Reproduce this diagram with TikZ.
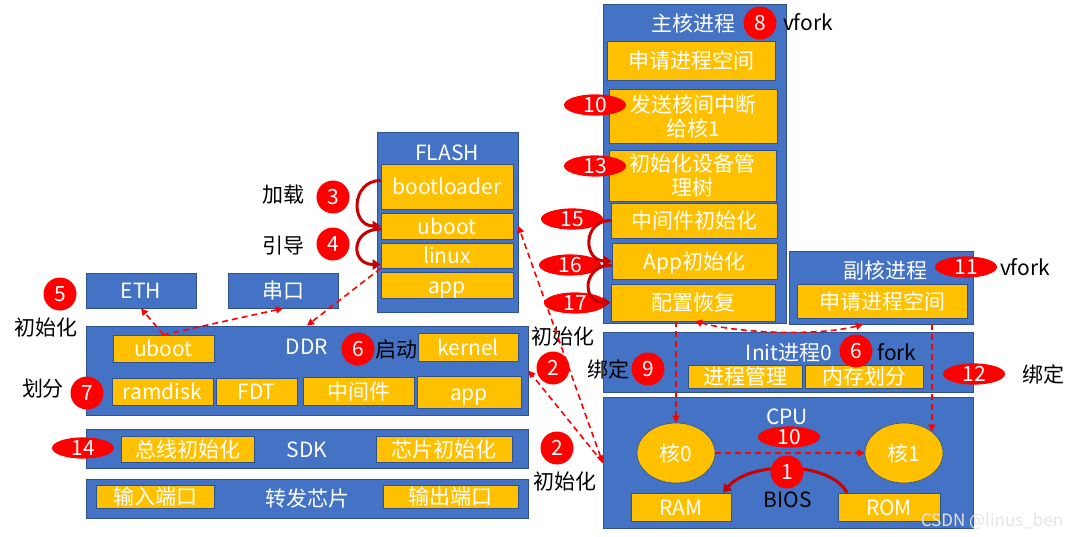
\documentclass[tikz,border=0pt]{standalone}
\usepackage{fontspec}
\setmainfont{Noto Sans CJK SC}
\usepackage{xcolor}
\usetikzlibrary{arrows.meta, positioning, shapes.geometric}
\definecolor{boxblue}{HTML}{4472C4}
\definecolor{boxline}{HTML}{2F528F}
\definecolor{cellyellow}{HTML}{FFC000}
\definecolor{arcred}{HTML}{C80000}

\begin{document}
\begin{tikzpicture}[
      x=1pt, y=-1pt,
      every node/.style={font=\fontsize{21}{24}\selectfont, inner sep=0pt, text height=18pt, text depth=2pt},
      blk/.style={draw=boxline, fill=boxblue, line width=0.8pt},
      cell/.style={draw=boxline, fill=cellyellow, line width=0.6pt, text=white},
      core/.style={ellipse, draw=boxline, fill=cellyellow, line width=0.6pt, text=white, minimum width=78pt, minimum height=60pt},
      title/.style={text=white},
      note/.style={text=black},
      num/.style={circle, fill=red, text=white, minimum size=33pt, text height=15pt, text depth=0pt, font=\fontsize{21}{24}\selectfont},
      tag/.style={ellipse, fill=red, text=white, minimum width=62pt, minimum height=21pt, text height=15pt, text depth=0pt, font=\fontsize{21}{24}\selectfont},
      arrow/.style={-{Triangle[length=7pt, width=7pt]}, red, line width=1.6pt, dash pattern=on 6pt off 4pt},
      dualarrow/.style={arrow, {Triangle[length=7pt, width=7pt]}-{Triangle[length=7pt, width=7pt]}},
      curlarrow/.style={-{Triangle[length=8pt, width=10pt]}, arcred, line width=3pt}
    ]
    \useasboundingbox (0,0) rectangle (1080,536);

    \node[blk, minimum width=141pt, minimum height=180pt] (flash) at (447.5,222) {};
    \node[title] (flashlbl) at (447,152) {FLASH};
    \node[cell, minimum width=132pt, minimum height=45pt] (boot) at (447,186.5) {bootloader};
    \node[cell, minimum width=132pt, minimum height=26pt] (fuboot) at (447,226) {uboot};
    \node[cell, minimum width=132pt, minimum height=25pt] (linux) at (447,255.5) {linux};
    \node[cell, minimum width=132pt, minimum height=26pt] (fapp) at (447,285) {app};

    \node[blk, minimum width=110pt, minimum height=35pt, text=white] (eth) at (141,290.5) {ETH};
    \node[blk, minimum width=110pt, minimum height=35pt, text=white] (uart) at (283,290.5) {串口};

    \node[blk, minimum width=442pt, minimum height=89pt] (ddr) at (307,370.5) {};
    \node[title] (ddrlbl) at (307,346) {DDR};
    \node[cell, minimum width=101pt, minimum height=27pt] (duboot) at (163.5,348.5) {uboot};
    \node[cell, minimum width=100pt, minimum height=28pt] (kernel) at (468,347) {kernel};
    \node[cell, minimum width=101pt, minimum height=27pt] (ramdisk) at (162.5,391.5) {ramdisk};
    \node[cell, minimum width=81pt, minimum height=27pt] (fdt) at (256.5,391.5) {FDT};
    \node[cell, minimum width=111pt, minimum height=28pt] (mid) at (358.5,391) {中间件};
    \node[cell, minimum width=104pt, minimum height=32pt] (dapp) at (469,392) {app};

    \node[blk, minimum width=442pt, minimum height=39pt] (sdk) at (307,448.5) {};
    \node[title] (sdklbl) at (307,449) {SDK};
    \node[cell, minimum width=133pt, minimum height=26pt] (bus) at (187.5,449) {总线初始化};
    \node[cell, minimum width=136pt, minimum height=26pt] (chip) at (444,449) {芯片初始化};

    \node[blk, minimum width=442pt, minimum height=39pt] (fwd) at (307,498.5) {};
    \node[title] (fwdlbl) at (307,498) {转发芯片};
    \node[cell, minimum width=118pt, minimum height=23pt] (inport) at (155,496.5) {输入端口};
    \node[cell, minimum width=135pt, minimum height=23pt] (outport) at (450.5,496.5) {输出端口};

    \node[blk, minimum width=183pt, minimum height=319pt] (main) at (694.5,163.5) {};
    \node[title] (mainlbl) at (693,23) {主核进程};
    \node[cell, minimum width=168pt, minimum height=39pt] (mreq) at (691,60.5) {申请进程空间};
    \node[cell, minimum width=168pt, minimum height=54pt, align=center, text height=42pt] (ipi) at (693,116) {发送核间中断\\给核1};
    \node[cell, minimum width=167pt, minimum height=51pt, align=center, text height=42pt] (devtree) at (692.5,175.5) {初始化设备管\\理树};
    \node[cell, minimum width=166pt, minimum height=35pt] (midinit) at (694,220.5) {中间件初始化};
    \node[cell, minimum width=165pt, minimum height=36pt] (appinit) at (694.5,261) {App初始化};
    \node[cell, minimum width=164pt, minimum height=37pt] (restore) at (693,302.5) {配置恢复};

    \node[blk, minimum width=184pt, minimum height=73pt] (sub) at (881,287.5) {};
    \node[title] (sublbl) at (885,270) {副核进程};
    \node[cell, minimum width=170pt, minimum height=34pt] (sreq) at (882,301) {申请进程空间};

    \node[blk, minimum width=370pt, minimum height=60pt] (init) at (788,362) {};
    \node[title] (initlbl) at (789,352) {Init进程0};
    \node[cell, minimum width=114pt, minimum height=23pt] (pm) at (745,376.5) {进程管理};
    \node[cell, minimum width=118pt, minimum height=23pt] (mm) at (864,376.5) {内存划分};

    \node[blk, minimum width=370pt, minimum height=131pt] (cpu) at (788,462.5) {};
    \node[title] (cpulbl) at (787,416) {CPU};
    \node[core] (core0) at (676,453) {核0};
    \node[core] (core1) at (904,453) {核1};
    \node[cell, minimum width=100pt, minimum height=28pt] (ram) at (681,507) {RAM};
    \node[cell, minimum width=102pt, minimum height=28pt] (rom) at (889,507) {ROM};
    \node[note] (bios) at (788,499) {BIOS};

    \node[note] (loadlbl) at (283,194) {加载};
    \node[note] (bootlbl) at (283,245) {引导};
    \node[note] (ethinit) at (46,327) {初始化};
    \node[note] (splitlbl) at (43,388) {划分};
    \node[note] (startlbl) at (396,349) {启动};
    \node[note] (ddrinit) at (563,336) {初始化};
    \node[note] (bindlbl) at (608,369) {绑定};
    \node[note] (sdkinit) at (565,481) {初始化};
    \node[note] (vfork0) at (808,22) {vfork};
    \node[note] (vfork1) at (1025,267) {vfork};
    \node[note] (forklbl) at (897,352) {fork};
    \node[note] (bindlbl1) at (1043,374) {绑定};

    \node[num] (n3) at (333,197) {3};
    \node[num] (n4) at (333,244) {4};
    \node[num] (n5) at (60,294) {5};
    \node[num] (n6) at (358,349) {6};
    \node[num] (n7) at (87,393) {7};
    \node[num] (n8) at (760,23) {8};
    \node[num] (n2) at (553,368) {2};
    \node[num] (n2b) at (557,448) {2};
    \node[num] (n9) at (648,369) {9};
    \node[num] (n6b) at (856,351) {6};
    \node[tag] (t14) at (83,448) {14};
    \node[tag] (t10) at (595,105) {10};
    \node[tag] (t13) at (595,166) {13};
    \node[tag] (t15) at (572,219) {15};
    \node[tag] (t16) at (570,265) {16};
    \node[tag] (t17) at (575,303) {17};
    \node[tag] (t11) at (966,267) {11};
    \node[tag] (t12) at (974,374) {12};
    \node[tag] (t10b) at (789,437) {10};

    \draw[curlarrow] ([yshift=6pt]boot.west) to[out=180, in=180, looseness=1.7] (fuboot.west);
    \draw[curlarrow] ([yshift=-3pt]fuboot.west) to[out=180, in=180, looseness=2.2] ([yshift=-9pt]linux.west);
    \draw[curlarrow] (midinit.west) to[out=180, in=180, looseness=1.8] (appinit.west);
    \draw[curlarrow] ([yshift=-4pt]appinit.west) to[out=180, in=180, looseness=2] (restore.west);
    \draw[curlarrow] ([xshift=-42pt]rom.north) .. controls +(-17,-32) and +(27,-32) .. ([xshift=42pt]ram.north);
    \node[num] (n1) at (787,472) {1};

    \draw[arrow] (linux.south west) -- (ddr.north);
    \draw[arrow] (duboot.north) -- (eth.south);
    \draw[arrow] (duboot.north) -- (uart.south);
    \draw[dualarrow] (cpu.west) -- ([xshift=5pt]fuboot.east);
    \draw[arrow] (cpu.west) -- (ddr.east);
    \draw[arrow] (core0.north |- restore.south) -- (core0.north);
    \draw[arrow] (core1.north east |- sub.south) -- (core1.north east);
    \draw[dualarrow] ([xshift=2pt]restore.south) .. controls +(45,12) and +(-45,12) .. ([xshift=-18pt]sub.south);
    \draw[arrow] (core0.east) -- (core1.west);

    \node[text=white!80!gray, font=\fontsize{17}{20}\selectfont] (mark) at (992,518) {CSDN @linus\_ben};
\end{tikzpicture}
\end{document}
